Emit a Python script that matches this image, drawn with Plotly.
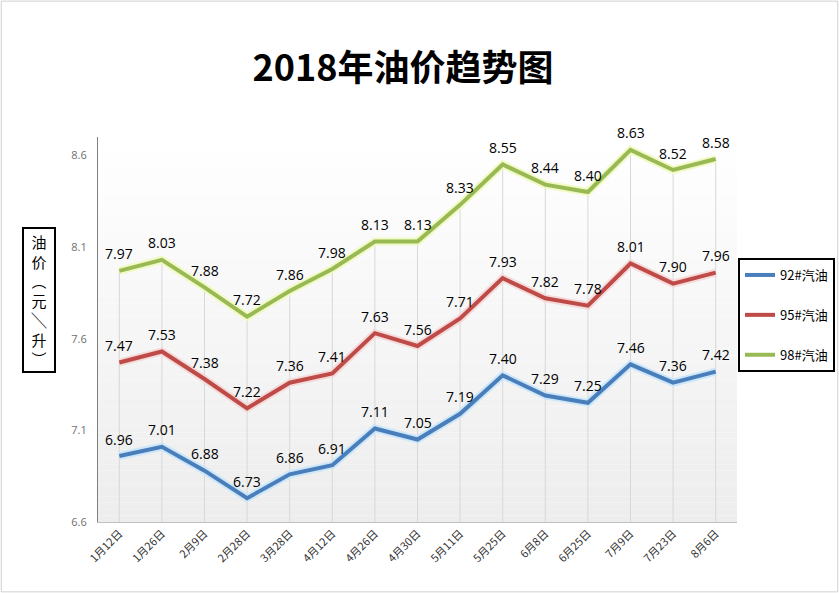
import plotly.graph_objects as go

dates = ["1月12日", "1月26日", "2月9日", "2月28日", "3月28日", "4月12日", "4月26日", "4月30日",
         "5月11日", "5月25日", "6月8日", "6月25日", "7月9日", "7月23日", "8月6日"]
oil92 = [6.96, 7.01, 6.88, 6.73, 6.86, 6.91, 7.11, 7.05, 7.19, 7.40, 7.29, 7.25, 7.46, 7.36, 7.42]
oil95 = [7.47, 7.53, 7.38, 7.22, 7.36, 7.41, 7.63, 7.56, 7.71, 7.93, 7.82, 7.78, 8.01, 7.90, 7.96]
oil98 = [7.97, 8.03, 7.88, 7.72, 7.86, 7.98, 8.13, 8.13, 8.33, 8.55, 8.44, 8.40, 8.63, 8.52, 8.58]
names = ["92#汽油", "95#汽油", "98#汽油"]
y_ticks = [6.6, 7.1, 7.6, 8.1, 8.6]

W, H = 839, 593
L, R, T, B = 98, 102, 137, 71
pw, ph = W - L - R, H - T - B

colors = ["#4A7EBB", "#BE4B48", "#98B954"]
halos = ["rgba(200,230,250,0.9)", "rgba(245,215,215,0.9)", "rgba(240,250,190,0.9)"]

fig = go.Figure()

# drop lines from highest point to axis
dx, dy = [], []
for i, d in enumerate(dates):
    top = max(oil92[i], oil95[i], oil98[i])
    dx += [d, d, None]
    dy += [y_ticks[0], top, None]
fig.add_trace(go.Scatter(x=dx, y=dy, mode="lines", line=dict(color="#d8d8d8", width=1),
                         showlegend=False, hoverinfo="skip"))

for s, h in zip([oil92, oil95, oil98], halos):
    fig.add_trace(go.Scatter(x=dates, y=s, mode="lines", line=dict(color=h, width=8),
                             showlegend=False, hoverinfo="skip"))
annotations = []
for s, c, n in zip([oil92, oil95, oil98], colors, names):
    fig.add_trace(go.Scatter(x=dates, y=s, mode="lines", name=n,
                             line=dict(color=c, width=4), legendgroup=n))
    for d, v in zip(dates, s):
        annotations.append(dict(x=d, y=v, text=f"{v:.2f}", showarrow=False,
                                yshift=17, yanchor="middle", xanchor="center",
                                font=dict(size=14, color="black", family="Open Sans")))

# gradient background bands
shapes = []
nb = 60
for k in range(nb):
    f = k / (nb - 1)
    g = int(round(255 - 18 * (1 - f)))
    shapes.append(dict(type="rect", xref="x domain", yref="y domain",
                       x0=0, x1=1, y0=k / nb, y1=(k + 1) / nb,
                       fillcolor=f"rgb({g},{g},{g})", line=dict(width=0), layer="below"))
# outer border
shapes.append(dict(type="rect", xref="paper", yref="paper",
                   x0=-L / pw + 0.002, x1=1 + R / pw - 0.002, y0=-B / ph + 0.003, y1=1 + T / ph - 0.003,
                   line=dict(color="#d0d0d0", width=1), fillcolor="rgba(0,0,0,0)"))

annotations.append(dict(text="油<br>价<br>︵<br>元<br>╲<br>升<br>︶", xref="paper", yref="paper",
                        x=(39 - L) / pw, y=(H - B - 300) / ph, xanchor="center", yanchor="middle",
                        showarrow=False, bordercolor="black", borderwidth=2, borderpad=2,
                        bgcolor="white", width=26,
                        font=dict(family="Noto Sans CJK SC", size=15, color="black")))

fig.update_layout(
    width=W, height=H,
    margin=dict(l=L, r=R, t=T, b=B, autoexpand=False),
    paper_bgcolor="white", plot_bgcolor="white",
    shapes=shapes,
    title=dict(text="<b>2018年油价趋势图</b>", x=403 / W, xanchor="center",
               y=1 - 68 / H, yanchor="middle", yref="container",
               font=dict(family="Noto Sans CJK SC", size=36, color="black")),
    legend=dict(x=(738 - L) / pw, xanchor="left", y=(H - B - 258) / ph, yanchor="top",
                bordercolor="black", borderwidth=2, bgcolor="white",
                font=dict(family="Noto Sans CJK SC", size=13, color="black"),
                tracegroupgap=20, itemwidth=30),
    xaxis=dict(type="category", range=[-0.5, len(dates) - 0.5], showgrid=False,
               showline=True, linecolor="#bfbfbf", linewidth=1, tickangle=-45,
               tickfont=dict(family="Noto Sans CJK SC", size=11, color="#333333"),
               ticks="", fixedrange=True),
    yaxis=dict(range=[6.6, 8.7], tickvals=y_ticks, tickformat=".1f", showgrid=False,
               showline=True, linecolor="#7f7f7f", linewidth=1, zeroline=False,
               tickfont=dict(family="Open Sans", size=11, color="#6f6f6f"),
               ticklabelstandoff=8),
    annotations=annotations,
)

fig.write_html("out.html", config={"displayModeBar": False},
               post_script="document.body.style.margin='0px';document.body.style.overflow='hidden';")
